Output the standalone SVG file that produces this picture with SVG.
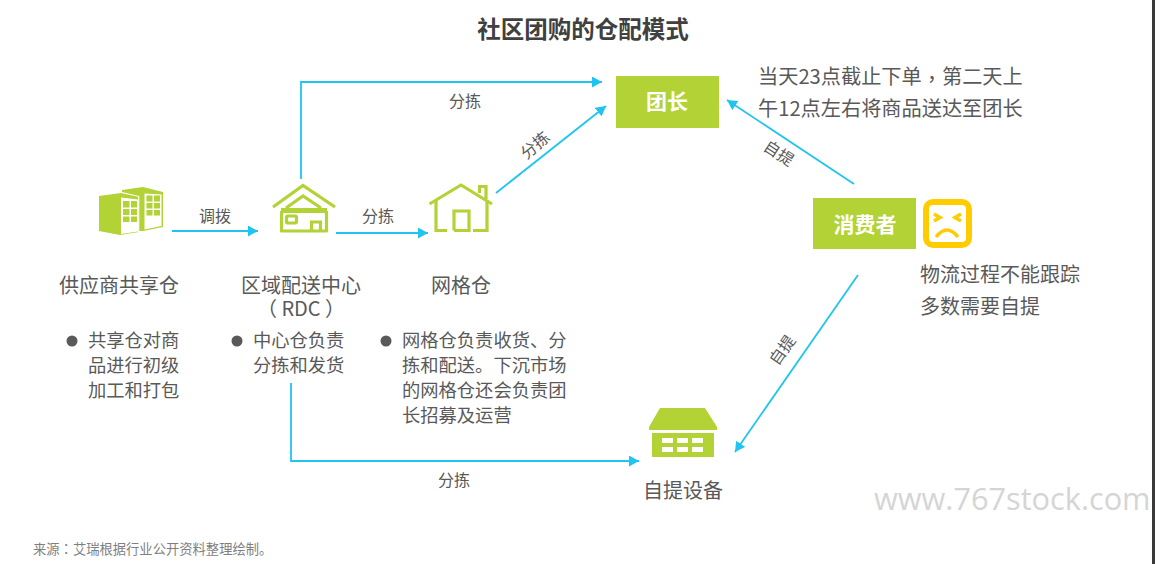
<svg xmlns="http://www.w3.org/2000/svg" width="1155" height="564" viewBox="0 0 1155 564">
<defs>
<marker id="ah" markerUnits="userSpaceOnUse" markerWidth="12" markerHeight="12" refX="10" refY="5.5" orient="auto"><path d="M0 0L10 5.500L0 11Z" fill="#1fc5f0"/></marker>
</defs>
<style>
text{font-family:"Noto Sans CJK SC","Liberation Sans",sans-serif;fill:#595959}
.c{fill:none;stroke:#1fc5f0;stroke-width:1.8;marker-end:url(#ah)}
.g{fill:#b2d235}
.s{fill:none;stroke:#b2d235;stroke-width:3.2}
.l{font-size:16px;text-anchor:middle}
.h{font-size:20px;text-anchor:middle}
.b{font-size:18.300px}
.p{font-size:20.200px}
.w{font-size:21px;font-weight:700;fill:#fff;text-anchor:middle}
.d{fill:#595959}
.t{font-family:"Noto Sans CJK TC","Liberation Sans",sans-serif}
</style>
<rect width="1155" height="564" fill="#fff"/>
<rect x="1152" y="0" width="3" height="564" fill="#3a3a3a"/>
<text x="583" y="38" font-size="23.500" font-weight="700" text-anchor="middle" style="fill:#404040">社区团购的仓配模式</text>
<g id="connectors">
<path class="c" d="M172 231H258"/>
<path class="c" d="M336 233H428"/>
<path class="c" d="M301 179V82H602"/>
<path class="c" d="M496 193L606 106"/>
<path class="c" d="M291 383V461H639"/>
<path class="c" d="M854 184L727 100"/>
<path class="c" d="M858 275L735 452"/>
<text class="l" x="215" y="222">调拨</text>
<text class="l" x="378" y="222">分拣</text>
<text class="l" x="465" y="107">分拣</text>
<text class="l" transform="translate(535 145) rotate(-40)" x="0" y="6">分拣</text>
<text class="l" x="454" y="486">分拣</text>
<text class="l" transform="translate(779 153) rotate(33)" x="0" y="6">自提</text>
<text class="l" transform="translate(782 350) rotate(-55)" x="0" y="6">自提</text>
</g>
<g id="node-supplier">
<path class="g" d="M122 190L143 187L163 192V227L143 231H139V196L122 192Z"/>
<path class="g" d="M99 196L121 193L139 197V232L120 235L99 231Z"/>
<path d="M121 197.500L138 199.500V231.500L121 234Z" fill="#fff"/>
<path d="M144.500 193.500L161.500 194.500V226L144.500 229.500Z" fill="#fff"/>
<path d="M138.700 196V232" stroke="#fff" stroke-width="1.200"/>
<path class="g" d="M123 201h6.500v6.500h-6.500zM131 201h6v6.500h-6zM123 209h6.500v6h-6.500zM131 209h6v6h-6zM123 216.500h6.500v5.500h-6.500zM131 216.500h6v5.500h-6zM146.500 195.500h6v6h-6zM154 195.500h6v6h-6zM146.500 203h6v5.500h-6zM154 203h6v5.500h-6zM146.500 210h6v5.500h-6zM154 210h6v5.500h-6z"/>
<text class="h" x="119" y="293">供应商共享仓</text>
<circle class="d" cx="72" cy="341" r="5.500"/>
<text class="b" x="88" y="347">共享仓对商</text>
<text class="b" x="88" y="372">品进行初级</text>
<text class="b" x="88" y="397">加工和打包</text>
</g>
<g id="node-rdc">
<path class="s" d="M273 207L303 185.500L335 207M286 208L303 196L321 208"/>
<path class="g" d="M281 208H327V213H281Z"/>
<path d="M281.500 211V231H326.500V211" fill="none" stroke="#b2d235" stroke-width="3.200" stroke-linejoin="round"/>
<rect x="286.500" y="216" width="10" height="7" rx="1.500" class="s"/>
<path class="s" d="M311.500 231V222H320.500V231"/>
<text class="h" x="301" y="293">区域配送中心</text>
<text class="h" x="301" y="316">（ RDC ）</text>
<circle class="d" cx="237" cy="341" r="5.500"/>
<text class="b" x="253" y="347">中心仓负责</text>
<text class="b" x="253" y="372">分拣和发货</text>
</g>
<g id="node-grid">
<path class="s" d="M429.500 204L461 185L492 204M479.500 193V186.500H486V199"/>
<path class="s" d="M436 200V230.500H447M487 200V230.500H473M454 230.500V211H469V230.500H454"/>
<text class="h" x="461" y="293">网格仓</text>
<circle class="d" cx="386" cy="341" r="5.500"/>
<text class="b" x="402" y="347">网格仓负责收货、分</text>
<text class="b" x="402" y="372">拣和配送。下沉市场</text>
<text class="b" x="402" y="397">的网格仓还会负责团</text>
<text class="b" x="402" y="422">长招募及运营</text>
</g>
<g id="node-leader">
<rect class="g" x="616" y="76" width="103" height="52"/>
<text class="w" x="667" y="109">团长</text>
<text class="p" x="758" y="84">当天23点截止下单<tspan class="t" dy="2.500">，</tspan><tspan dy="-2.500">第二天上</tspan></text>
<text class="p" x="758" y="116">午12点左右将商品送达至团长</text>
</g>
<g id="node-consumer">
<rect class="g" x="813" y="198" width="103" height="51"/>
<text class="w" x="865" y="232">消费者</text>
<rect x="926" y="202" width="43" height="43" rx="7" fill="none" stroke="#ffcc00" stroke-width="6"/>
<path d="M934 214L940 217.500L934 221M961 214L955 217.500L961 221M936 237Q947 223 958 237" fill="none" stroke="#ffcc00" stroke-width="3.500"/>
<text class="h" x="920" y="282" style="text-anchor:start">物流过程不能跟踪</text>
<text class="h" x="920" y="314" style="text-anchor:start">多数需要自提</text>
</g>
<g id="node-pickup">
<path class="g" d="M660 408H705L717 427V430H649V427Z"/>
<rect class="g" x="652" y="433" width="62" height="24"/>
<path d="M662 438h11v5h-11zM677 438h11v5h-11zM692 438h11v5h-11zM662 447h11v5h-11zM677 447h11v5h-11zM692 447h11v5h-11z" fill="#fff"/>
<text class="h" x="683" y="498">自提设备</text>
</g>
<text x="33" y="554" font-size="13.300" style="fill:#7f7f7f">来源<tspan class="t">：</tspan>艾瑞根据行业公开资料整理绘制。</text>
<text x="874" y="510" font-size="30.700" style="font-family:'Open Sans','Liberation Sans',sans-serif;fill:#d5d5d5">www.767stock.com</text>
</svg>
